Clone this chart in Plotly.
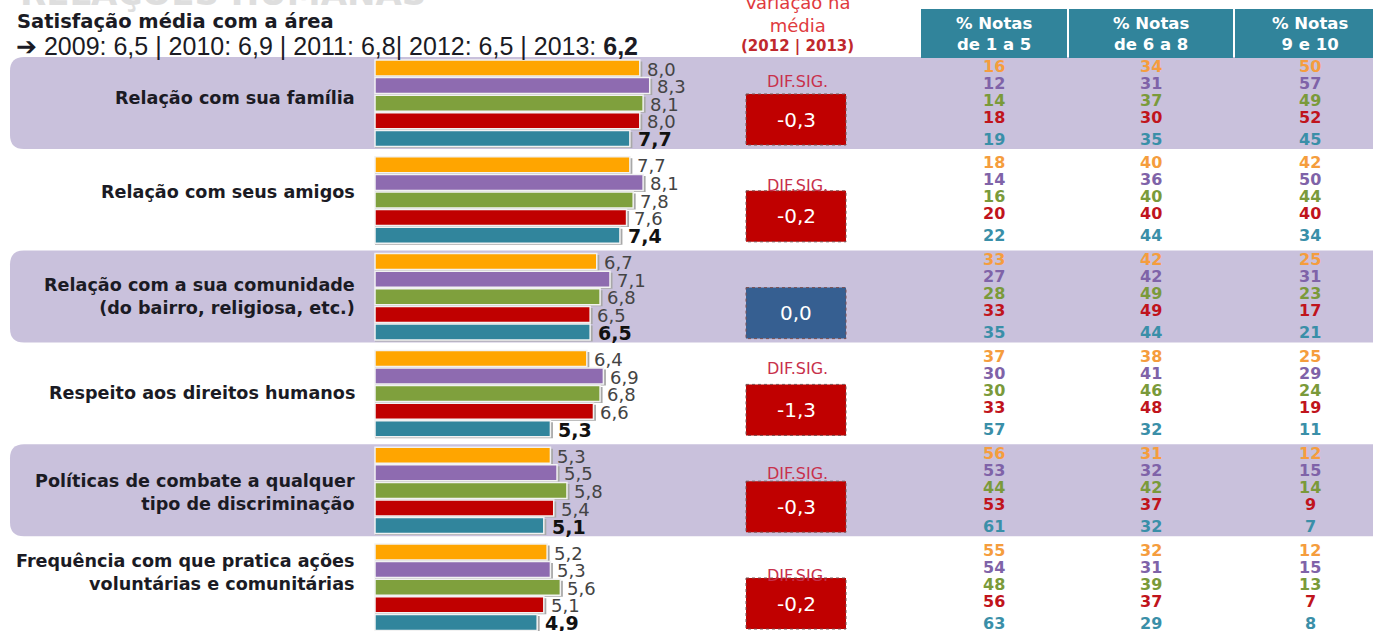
import plotly.graph_objects as go

# ---------------- data ----------------
categories = [
    "Relação com sua família",
    "Relação com seus amigos",
    "Relação com a sua comunidade<br>(do bairro, religiosa, etc.)",
    "Respeito aos direitos humanos",
    "Políticas de combate a qualquer<br>tipo de discriminação",
    "Frequência com que pratica ações<br>voluntárias e comunitárias",
]
years = ["2009", "2010", "2011", "2012", "2013"]
overall_mean = [6.5, 6.9, 6.8, 6.5, 6.2]

mean_2009 = [8.0, 7.7, 6.7, 6.4, 5.3, 5.2]
mean_2010 = [8.3, 8.1, 7.1, 6.9, 5.5, 5.3]
mean_2011 = [8.1, 7.8, 6.8, 6.8, 5.8, 5.6]
mean_2012 = [8.0, 7.6, 6.5, 6.6, 5.4, 5.1]
mean_2013 = [7.7, 7.4, 6.5, 5.3, 5.1, 4.9]

variation = [-0.3, -0.2, 0.0, -1.3, -0.3, -0.2]
significant = [True, True, False, True, True, True]

notes_1_5_2009 = [16, 18, 33, 37, 56, 55]
notes_1_5_2010 = [12, 14, 27, 30, 53, 54]
notes_1_5_2011 = [14, 16, 28, 30, 44, 48]
notes_1_5_2012 = [18, 20, 33, 33, 53, 56]
notes_1_5_2013 = [19, 22, 35, 57, 61, 63]

notes_6_8_2009 = [34, 40, 42, 38, 31, 32]
notes_6_8_2010 = [31, 36, 42, 41, 32, 31]
notes_6_8_2011 = [37, 40, 49, 46, 42, 39]
notes_6_8_2012 = [30, 40, 49, 48, 37, 37]
notes_6_8_2013 = [35, 44, 44, 32, 32, 29]

notes_9_10_2009 = [50, 42, 25, 25, 12, 12]
notes_9_10_2010 = [57, 50, 31, 29, 15, 15]
notes_9_10_2011 = [49, 44, 23, 24, 14, 13]
notes_9_10_2012 = [52, 40, 17, 19, 9, 7]
notes_9_10_2013 = [45, 34, 21, 11, 7, 8]

table_headers = ["% Notas<br>de 1 a 5", "% Notas<br>de 6 a 8", "% Notas<br>9 e 10"]

# ---------------- styles / layout ----------------
W, H = 1373, 631
X0_PX = 375.0
PX_PER_UNIT = 33.1
ROW0 = 60.0
ROW_PITCH = 96.8
BAR_PITCH = 17.6
BAR_H = 16.0

bar_colors = ["#ffa500", "#8e6bb0", "#7fa03d", "#c00000", "#31859c"]
num_colors = ["#f59d3d", "#7f63a8", "#7a9a3a", "#c0141c", "#3a8fa8"]
band_color = "#c9c1dc"
head_color = "#31849b"
FONT = "DejaVu Sans"

label_y = [98, 192, 296, 393, 492, 572]
difsig_off = [21, 29, None, 18, 26, 31]
col_x = [994, 1151, 1310]
head_cells = [(921, 1067), (1069, 1233), (1235, 1390)]
num_off = [6, 23, 40, 57, 79]

means = [mean_2009, mean_2010, mean_2011, mean_2012, mean_2013]
cols = [
    [notes_1_5_2009, notes_1_5_2010, notes_1_5_2011, notes_1_5_2012, notes_1_5_2013],
    [notes_6_8_2009, notes_6_8_2010, notes_6_8_2011, notes_6_8_2012, notes_6_8_2013],
    [notes_9_10_2009, notes_9_10_2010, notes_9_10_2011, notes_9_10_2012, notes_9_10_2013],
]

def fmt(v):
    return f"{v:.1f}".replace(".", ",")

def row_top(i):
    return ROW0 + i * ROW_PITCH

fig = go.Figure()
annotations = []
shapes = []

# bars (with a thin shadow behind each)
for j, yr in enumerate(years):
    ys = [row_top(i) + BAR_H / 2 + j * BAR_PITCH for i in range(len(categories))]
    fig.add_trace(go.Bar(
        orientation="h", x=[v + 2.5 / PX_PER_UNIT for v in means[j]], y=[y + 1.5 for y in ys],
        width=BAR_H, base=0, marker=dict(color="#a8a8a8", line=dict(width=0)),
        showlegend=False, hoverinfo="skip",
    ))
    fig.add_trace(go.Bar(
        orientation="h", x=means[j], y=ys, width=BAR_H, base=0,
        marker=dict(color=bar_colors[j], line=dict(color="#f2f2f2", width=1.5)),
        name=yr, showlegend=False, hoverinfo="skip",
    ))
    for i, v in enumerate(means[j]):
        last = j == len(years) - 1
        annotations.append(dict(
            x=v, y=ys[i] + 1, xref="x", yref="y",
            text=f"<b>{fmt(v)}</b>" if last else fmt(v),
            xanchor="left", yanchor="middle", xshift=5 if not last else 6,
            showarrow=False,
            font=dict(family=FONT, size=19 if last else 18,
                      color="#111111" if last else "#444444"),
        ))

# bands
for i in range(len(categories)):
    if i % 2 == 0:
        t = row_top(i) - 3
        b = row_top(i) + 89
        r = 14
        path = (f"M {10 + r},{t} L 1390,{t} L 1390,{b} L {10 + r},{b} "
                f"Q 10,{b} 10,{b - r} L 10,{t + r} Q 10,{t} {10 + r},{t} Z")
        shapes.append(dict(type="path", path=path, xref="x2", yref="y",
                           fillcolor=band_color, line=dict(width=0), layer="below"))

# category labels
for i, c in enumerate(categories):
    annotations.append(dict(
        x=357, y=label_y[i], xref="x2", yref="y", text=f"<b>{c}</b>",
        xanchor="right", yanchor="middle", align="right", showarrow=False,
        font=dict(family=FONT, size=17.6, color="#1b1b24"),
    ))

# variation boxes
for i, v in enumerate(variation):
    t = row_top(i) + 34
    b = row_top(i) + 85
    shapes.append(dict(type="rect", xref="x2", yref="y", x0=746, x1=846, y0=t, y1=b,
                       fillcolor="#c00000" if significant[i] else "#365f91",
                       line=dict(color="#7a5050", width=1, dash="dot"), layer="below"))
    annotations.append(dict(
        x=796, y=(t + b) / 2, xref="x2", yref="y", text=fmt(v),
        xanchor="center", yanchor="middle", showarrow=False,
        font=dict(family=FONT, size=20, color="#ffffff"),
    ))
    if significant[i]:
        annotations.append(dict(
            x=797, y=row_top(i) + difsig_off[i], xref="x2", yref="y", text="DIF.SIG.",
            xanchor="center", yanchor="middle", showarrow=False,
            font=dict(family=FONT, size=16, color="#c8304c"),
        ))

# table header
for k, (a, b) in enumerate(head_cells):
    shapes.append(dict(type="rect", xref="x2", yref="y", x0=a, x1=b, y0=9, y1=58,
                       fillcolor=head_color, line=dict(width=0), layer="below"))
    annotations.append(dict(
        x=col_x[k], y=34, xref="x2", yref="y", text=f"<b>{table_headers[k]}</b>",
        xanchor="center", yanchor="middle", showarrow=False,
        font=dict(family=FONT, size=16.5, color="#ffffff"),
    ))

# table numbers
for k in range(3):
    for j in range(len(years)):
        for i in range(len(categories)):
            annotations.append(dict(
                x=col_x[k], y=row_top(i) + num_off[j], xref="x2", yref="y",
                text=f"<b>{cols[k][j][i]}</b>", xanchor="center", yanchor="middle",
                showarrow=False, font=dict(family=FONT, size=16, color=num_colors[j]),
            ))

# headers left / middle
annotations.append(dict(x=18, y=15, xref="x2", yref="y", text="<b>RELAÇÕES HUMANAS</b>",
                        xanchor="left", yanchor="bottom", showarrow=False,
                        font=dict(family=FONT, size=34, color="#dedede")))
annotations.append(dict(x=15, y=21, xref="x2", yref="y", text="<b>Satisfação média com a área</b>",
                        xanchor="left", yanchor="middle", showarrow=False,
                        font=dict(family=FONT, size=19.5, color="#1b1b24")))
parts = [f"{y}: {fmt(m)}" for y, m in zip(years, overall_mean)]
sub = "➔ " + parts[0] + " | " + parts[1] + " | " + parts[2] + "| " + parts[3] + " | " + \
      parts[4].split(": ")[0] + ": <b>" + parts[4].split(": ")[1] + "</b>"
annotations.append(dict(x=14, y=46, xref="x2", yref="y", text=sub,
                        xanchor="left", yanchor="middle", showarrow=False,
                        font=dict(family="Liberation Sans", size=25, color="#1b1b24")))
annotations.append(dict(x=797, y=14, xref="x2", yref="y", text="Variação na<br>média",
                        xanchor="center", yanchor="middle", showarrow=False,
                        font=dict(family=FONT, size=18, color="#e03a3e")))
annotations.append(dict(x=797, y=46, xref="x2", yref="y", text="<b>(2012 | 2013)</b>",
                        xanchor="center", yanchor="middle", showarrow=False,
                        font=dict(family=FONT, size=15, color="#c0282d")))

fig.update_layout(
    width=W, height=H, margin=dict(l=0, r=0, t=0, b=0),
    paper_bgcolor="#ffffff", plot_bgcolor="#ffffff",
    barmode="overlay", showlegend=False,
    xaxis=dict(range=[-X0_PX / PX_PER_UNIT, (W - X0_PX) / PX_PER_UNIT], visible=False, fixedrange=True),
    xaxis2=dict(range=[0, W], overlaying="x", visible=False, fixedrange=True),
    yaxis=dict(range=[H, 0], visible=False, fixedrange=True),
    shapes=shapes, annotations=annotations,
)
# invisible trace to activate x2
fig.add_trace(go.Scatter(x=[0, W], y=[0, H], xaxis="x2", yaxis="y", mode="markers",
                         marker=dict(opacity=0), hoverinfo="skip", showlegend=False))

fig.write_html("out.html", config={"displayModeBar": False},
               post_script="document.body.style.margin='0';")
